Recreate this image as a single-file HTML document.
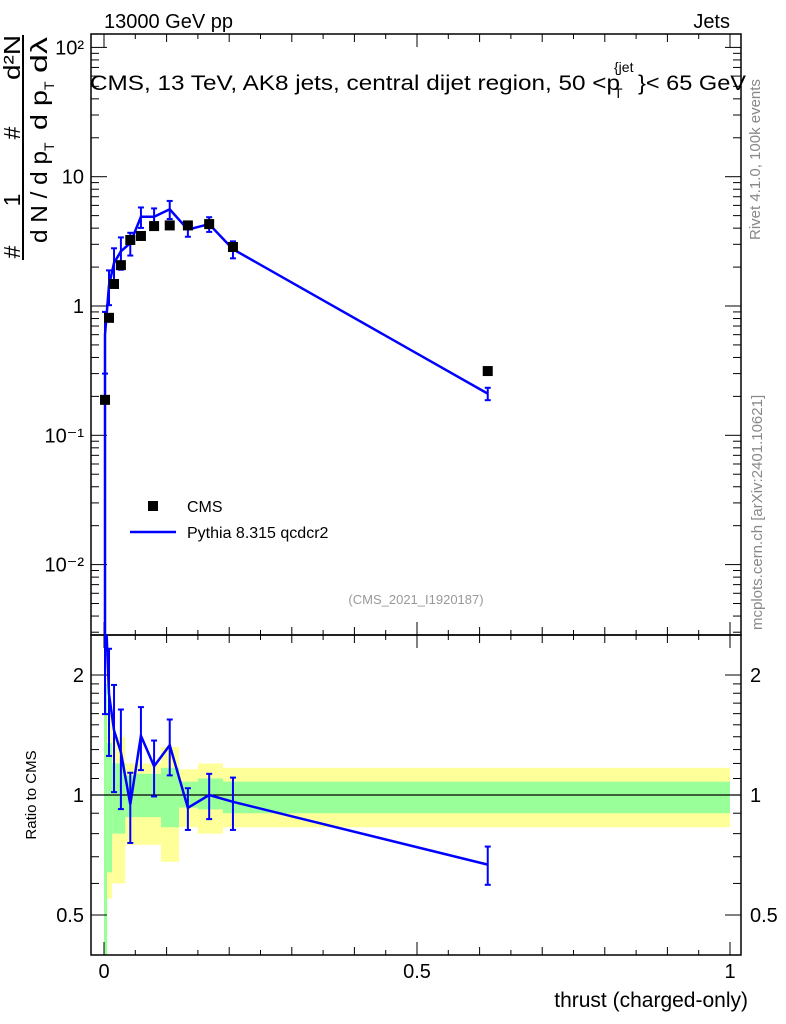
<!DOCTYPE html>
<html><head><meta charset="utf-8"><style>
body{margin:0;background:#fff;}
svg{display:block;font-family:"Liberation Sans",sans-serif;}
</style></head><body>
<svg id="c" width="786" height="1024" viewBox="0 0 786 1024" xmlns="http://www.w3.org/2000/svg">
<text x="104" y="28" font-size="20">13000 GeV pp</text>
<text x="730" y="28" font-size="20" text-anchor="end">Jets</text>
<g font-size="21">
<text x="90" y="90" textLength="530" lengthAdjust="spacingAndGlyphs">CMS, 13 TeV, AK8 jets, central dijet region, 50 &lt;p</text>
<text x="614" y="98" font-size="14">T</text>
<text x="614" y="72" font-size="14">{jet</text>
<text x="638" y="90" textLength="108" lengthAdjust="spacingAndGlyphs">}&lt; 65 GeV</text>
</g>
<text x="416" y="604" font-size="13" fill="#999" text-anchor="middle">(CMS_2021_I1920187)</text>
<text transform="translate(760,240) rotate(-90)" font-size="15" fill="#888">Rivet 4.1.0,  100k events</text>
<text transform="translate(762,630) rotate(-90)" font-size="15" fill="#888">mcplots.cern.ch [arXiv:2401.10621]</text>
<g font-size="23">
<line x1="23" y1="35" x2="23" y2="260" stroke="#000" stroke-width="2"/>
<text transform="translate(20,252) rotate(-90)" text-anchor="middle">#</text>
<text transform="translate(20,200) rotate(-90)" text-anchor="middle">1</text>
<text transform="translate(20,133) rotate(-90)" text-anchor="middle">#</text>
<text transform="translate(20,80) rotate(-90)" textLength="45" lengthAdjust="spacingAndGlyphs">d²N</text>
<text transform="translate(47,243) rotate(-90)" textLength="92" lengthAdjust="spacingAndGlyphs">d N / d p</text>
<text transform="translate(54,151) rotate(-90)" font-size="14">T</text>
<text transform="translate(47,130) rotate(-90)" textLength="40" lengthAdjust="spacingAndGlyphs">d p</text>
<text transform="translate(54,90) rotate(-90)" font-size="14">T</text>
<text transform="translate(47,73) rotate(-90)" textLength="36" lengthAdjust="spacingAndGlyphs">dλ</text>
</g>
<text transform="translate(36,795) rotate(-90)" font-size="15" text-anchor="middle">Ratio to CMS</text>
<text x="748" y="1007" font-size="21" text-anchor="end">thrust (charged-only)</text>
<g id="g"></g>
</svg>
<script>
const cmsX=[0.0016,0.008,0.016,0.027,0.042,0.059,0.080,0.105,0.134,0.168,0.206,0.613];
const cmsY=[0.188,0.81,1.48,2.07,3.24,3.48,4.15,4.2,4.2,4.3,2.86,0.314];
const mcY=[0.6,1.45,2.15,2.65,3.07,4.9,4.9,5.6,3.9,4.3,2.75,0.21];
const mcErr=[0.5,0.3,0.3,0.28,0.2,0.18,0.16,0.16,0.12,0.13,0.15,0.11];
const bandEdges=[0,0.005,0.013,0.034,0.048,0.091,0.12,0.15,0.19,1.0];
const greenUp=[1.9,1.35,1.2,1.12,1.13,1.17,1.08,1.1,1.08];
const greenDn=[0.33,0.64,0.8,0.88,0.88,0.83,0.93,0.92,0.9];
const yellowUp=[2.2,1.6,1.4,1.2,1.2,1.32,1.16,1.2,1.17];
const yellowDn=[0.3,0.55,0.6,0.75,0.75,0.68,0.83,0.8,0.83];
const xTicks=[0,0.5,1];const xTickLabels=["0","0.5","1"];
const yTicks=[-2,-1,0,1,2];const yTickLabels=["10⁻²","10⁻¹","1","10","10²"];
const rTicks=[0.5,1,2];const rTickLabels=["0.5","1","2"];

const NS="http://www.w3.org/2000/svg",G=document.getElementById('g');
const L=91,R=741,T=34,M=635,B=955;
const X=v=>104+v*626;
const Y=v=>306-129.3*Math.log10(v);
const RY=v=>795-398.6*Math.log10(v);
function el(t,a,p){const e=document.createElementNS(NS,t);for(const k in a)e.setAttribute(k,a[k]);(p||G).appendChild(e);return e;}
const cl=el('clipPath',{id:'cm'});el('rect',{x:L,y:T,width:R-L,height:M-T},cl);
const cr=el('clipPath',{id:'cr'});el('rect',{x:L,y:M,width:R-L,height:B-M},cr);
const bg=el('g',{'clip-path':'url(#cr)'});


for(let i=0;i<greenUp.length;i++){
 const x0=X(bandEdges[i]),x1=X(bandEdges[i+1]);
 const y=el('rect',{x:x0,y:RY(yellowUp[i]),width:x1-x0,height:RY(yellowDn[i])-RY(yellowUp[i]),fill:'#ffff99'},bg);
 
 
 const g=el('rect',{x:x0,y:RY(greenUp[i]),width:x1-x0,height:RY(greenDn[i])-RY(greenUp[i]),fill:'#99ff99'},bg);
 
 
}
el('line',{x1:L,x2:R,y1:RY(1),y2:RY(1),stroke:'#000','stroke-width':1.2});
el('rect',{x:L,y:T,width:R-L,height:M-T,fill:'none',stroke:'#000','stroke-width':1.5});
el('rect',{x:L,y:M,width:R-L,height:B-M,fill:'none',stroke:'#000','stroke-width':1.5});
for(let v=0;v<=1.0001;v+=0.1){const x=X(v);const big=Math.abs(v*2-Math.round(v*2))<1e-6;const h=big?13:8;
 for(const [y0,d] of [[T,1],[M,-1],[M,1],[B,-1]])el('line',{x1:x,x2:x,y1:y0,y2:y0+d*h,stroke:'#000'});}
for(let v=0.05;v<1;v+=0.1){const x=X(v);for(const [y0,d] of [[T,1],[M,-1],[M,1],[B,-1]])el('line',{x1:x,x2:x,y1:y0,y2:y0+d*5,stroke:'#000'});}
xTicks.forEach((v,i)=>{const t=el('text',{x:X(v),y:978,'font-size':20,'text-anchor':'middle'});t.textContent=xTickLabels[i];
 
 });
for(let d=-3;d<=2;d++){for(let m=1;m<10;m++){const y=Y(m*Math.pow(10,d));if(y<T||y>M)continue;const h=m==1?16:8;
 el('line',{x1:L,x2:L+h,y1:y,y2:y,stroke:'#000'});el('line',{x1:R,x2:R-h,y1:y,y2:y,stroke:'#000'});}}
yTicks.forEach((v,i)=>{const t=el('text',{x:84,y:Y(Math.pow(10,v))+7,'font-size':20,'text-anchor':'end'});t.textContent=yTickLabels[i];
 
 });
[0.5,0.6,0.7,0.8,0.9,1,1.1,1.2,1.3,1.4,1.5,1.6,1.7,1.8,1.9,2].forEach(v=>{const y=RY(v);const h=(v==0.5||v==1||v==2)?16:8;
 el('line',{x1:L,x2:L+h,y1:y,y2:y,stroke:'#000'});el('line',{x1:R,x2:R-h,y1:y,y2:y,stroke:'#000'});});
rTicks.forEach((v,i)=>{for(const [x,a] of [[84,'end'],[750,'start']]){const t=el('text',{x:x,y:RY(v)+7,'font-size':20,'text-anchor':a});t.textContent=rTickLabels[i];
 
 }});
const mg=el('g',{'clip-path':'url(#cm)'});
let pts=[[X(cmsX[0]),M+5]];cmsX.forEach((x,i)=>pts.push([X(x),Y(mcY[i])]));
const ml=el('polyline',{points:pts.map(p=>p.join(',')).join(' '),fill:'none',stroke:'#0000ff','stroke-width':2.5},mg);


cmsX.forEach((x,i)=>{const px=X(x),y1=Y(mcY[i]*(1+mcErr[i])),y2=Y(mcY[i]*(1-mcErr[i]));
 el('line',{x1:px,x2:px,y1:y1,y2:y2,stroke:'#0000ff','stroke-width':2},mg);
 el('line',{x1:px-3,x2:px+3,y1:y1,y2:y1,stroke:'#0000ff','stroke-width':2},mg);
 el('line',{x1:px-3,x2:px+3,y1:y2,y2:y2,stroke:'#0000ff','stroke-width':2},mg);
 const r=el('rect',{x:px-5,y:Y(cmsY[i])-5,width:10,height:10,fill:'#000'},mg);
 
 });
const rg=el('g',{'clip-path':'url(#cr)'});
let rp=[[X(cmsX[0]),M-5]];cmsX.forEach((x,i)=>rp.push([X(x),RY(mcY[i]/cmsY[i])]));
const rl=el('polyline',{points:rp.map(p=>p.join(',')).join(' '),fill:'none',stroke:'#0000ff','stroke-width':2.5},rg);


cmsX.forEach((x,i)=>{const r=mcY[i]/cmsY[i],px=X(x),y1=RY(r*(1+mcErr[i])),y2=RY(r*(1-mcErr[i]));
 el('line',{x1:px,x2:px,y1:y1,y2:y2,stroke:'#0000ff','stroke-width':2},rg);
 el('line',{x1:px-3,x2:px+3,y1:y1,y2:y1,stroke:'#0000ff','stroke-width':2},rg);
 el('line',{x1:px-3,x2:px+3,y1:y2,y2:y2,stroke:'#0000ff','stroke-width':2},rg);});
const lg=el('g',{});


el('rect',{x:148,y:501,width:10,height:10,fill:'#000'},lg);
let t=el('text',{x:187,y:512,'font-size':16},lg);t.textContent='CMS';
el('line',{x1:130,x2:176,y1:532,y2:532,stroke:'#0000ff','stroke-width':2.5},lg);
t=el('text',{x:187,y:538,'font-size':16},lg);t.textContent='Pythia 8.315 qcdcr2';
</script>
</body></html>
